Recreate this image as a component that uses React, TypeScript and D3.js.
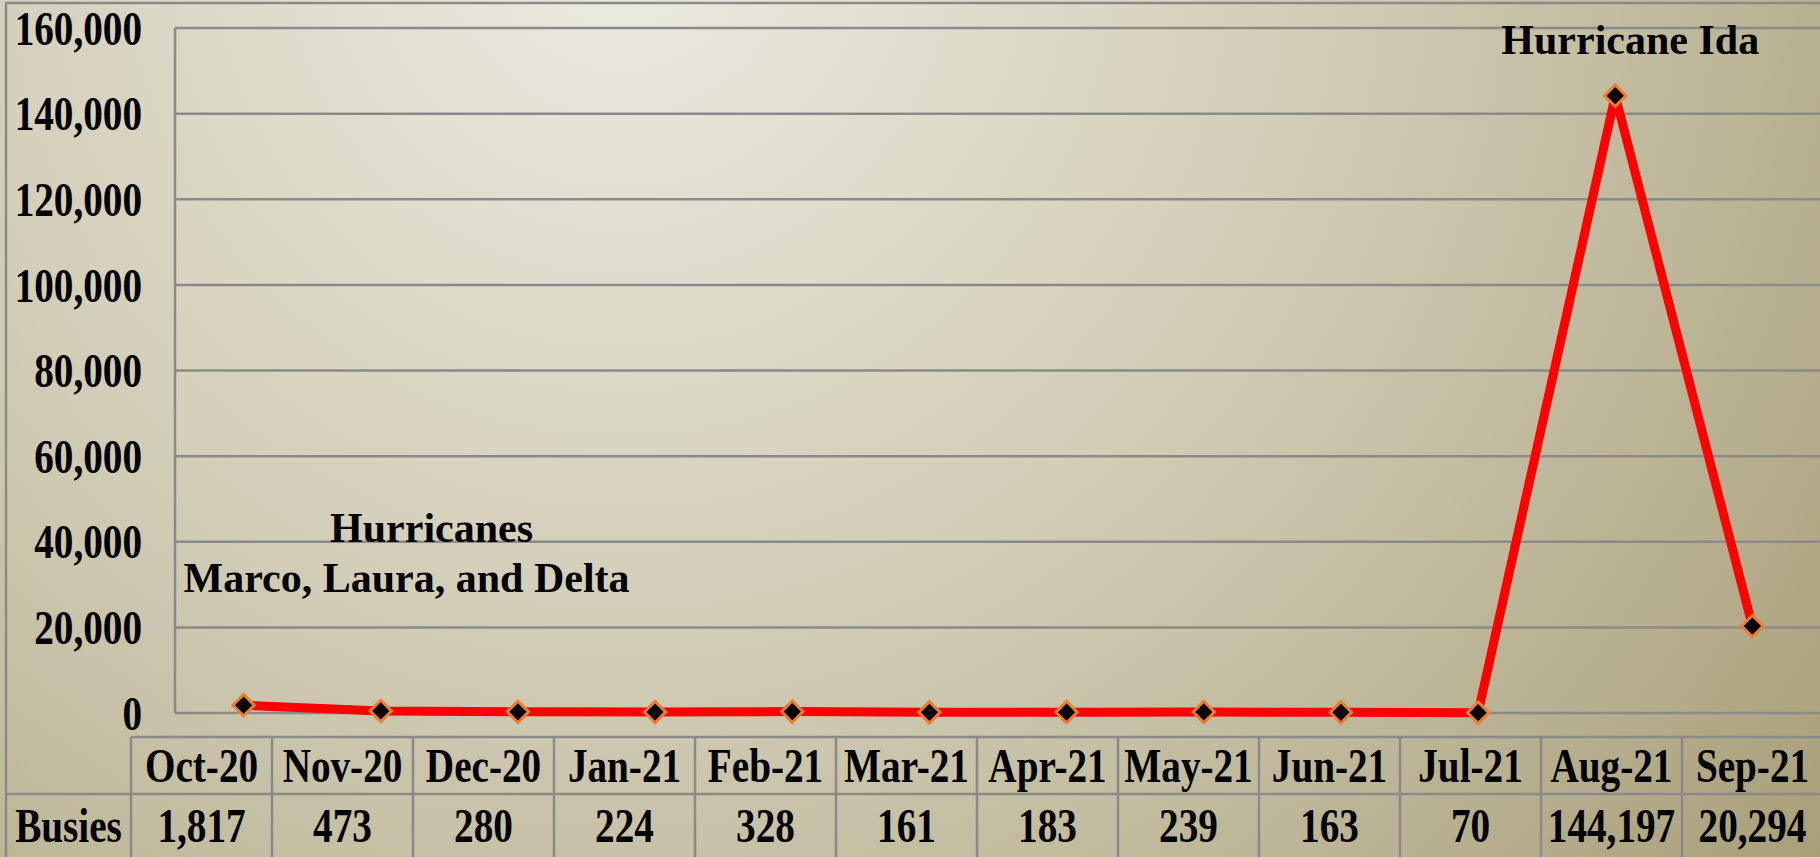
import React, { useEffect, useRef } from "react";
import * as d3 from "d3";

// monthly busies
const months = ["Oct-20", "Nov-20", "Dec-20", "Jan-21", "Feb-21", "Mar-21", "Apr-21", "May-21", "Jun-21", "Jul-21", "Aug-21", "Sep-21"];
const busies = [1817, 473, 280, 224, 328, 161, 183, 239, 163, 70, 144197, 20294];
const rowLabel = "Busies";
const yMax = 160000;
const notes = [
  { month: "Oct-20", lines: ["Hurricanes", "Marco, Laura, and Delta"] },
  { month: "Aug-21", lines: ["Hurricane Ida"] },
];

export default function App() {
  const svgRef = useRef<SVGSVGElement>(null);

  useEffect(() => {
    const w = 1820;
    const h = 857;
    const font = "'Liberation Serif', 'Times New Roman', serif";
    const grey = "#8a8a8a";
    const squeeze = 0.8;

    const svg = d3.select(svgRef.current).attr("width", w).attr("height", h);
    svg.selectAll("*").remove();

    // background gradient
    const defs = svg.append("defs");
    const grad = defs
      .append("radialGradient")
      .attr("id", "bg")
      .attr("gradientUnits", "userSpaceOnUse")
      .attr("cx", 620)
      .attr("cy", -60)
      .attr("r", 1550);
    grad.append("stop").attr("offset", 0).attr("stop-color", "#ecebe2");
    grad.append("stop").attr("offset", 0.45).attr("stop-color", "#d2cdb7");
    grad.append("stop").attr("offset", 1).attr("stop-color", "#a69d76");
    svg.append("rect").attr("width", w).attr("height", h).attr("fill", "url(#bg)");

    // outer border
    svg.append("rect")
      .attr("x", 6).attr("y", 3).attr("width", w).attr("height", h)
      .attr("fill", "none").attr("stroke", grey).attr("stroke-width", 2.5);

    // scales
    const plotL = 175, plotR = 1821, plotT = 28, plotB = 713;
    const x = d3.scaleBand().domain(months).range([plotL, plotR]);
    const y = d3.scaleLinear().domain([0, yMax]).range([plotB, plotT]);
    const cx = (m: string) => (x(m) as number) + x.bandwidth() / 2;

    // gridlines
    const ticks = y.ticks(8);
    svg.append("g")
      .selectAll("line")
      .data(ticks)
      .join("line")
      .attr("x1", plotL).attr("x2", w + 5)
      .attr("y1", (d) => y(d)).attr("y2", (d) => y(d))
      .attr("stroke", grey).attr("stroke-width", 2.5);
    svg.append("line")
      .attr("x1", plotL).attr("x2", plotL)
      .attr("y1", plotT).attr("y2", plotB)
      .attr("stroke", grey).attr("stroke-width", 2.5);

    // y labels
    svg.append("g")
      .selectAll("text")
      .data(ticks)
      .join("text")
      .attr("transform", (d) => `translate(142, ${y(d)}) scale(${squeeze}, 1)`)
      .attr("dy", "0.34em")
      .attr("text-anchor", "end")
      .style("font-family", font)
      .style("font-weight", "bold")
      .style("font-size", "49px")
      .text((d) => d3.format(",")(d));

    // line
    const line = d3.line<number>()
      .x((_, i) => cx(months[i]))
      .y((d) => y(d));
    svg.append("path")
      .datum(busies)
      .attr("d", line)
      .attr("fill", "none")
      .attr("stroke", "#ff0000")
      .attr("stroke-width", 9);

    // markers
    const diamond = d3.symbol().type(d3.symbolSquare).size(230);
    svg.append("g")
      .selectAll("path")
      .data(busies)
      .join("path")
      .attr("d", diamond)
      .attr("transform", (d, i) => `translate(${cx(months[i])}, ${y(d)}) rotate(45)`)
      .attr("fill", "#000")
      .attr("stroke", "#ed7d31")
      .attr("stroke-width", 3);

    // annotations
    const oct = notes[0];
    svg.append("text")
      .attr("x", cx(oct.month) + 188).attr("y", y(40000))
      .attr("text-anchor", "middle")
      .style("font-family", font).style("font-weight", "bold").style("font-size", "42px")
      .text(oct.lines[0]);
    svg.append("text")
      .attr("x", cx(oct.month) + 163).attr("y", y(40000) + 50)
      .attr("text-anchor", "middle")
      .style("font-family", font).style("font-weight", "bold").style("font-size", "42px")
      .text(oct.lines[1]);
    const aug = notes[1];
    svg.append("text")
      .attr("x", cx(aug.month) + 15).attr("y", 54)
      .attr("text-anchor", "middle")
      .style("font-family", font).style("font-weight", "bold").style("font-size", "42px")
      .text(aug.lines[0]);

    // data table
    const tableL = 131, tableT = 737, rowMid = 794, outerL = 6;
    const col = d3.scaleBand().domain(months).range([tableL, tableL + 12 * 141]);
    const colC = (m: string) => (col(m) as number) + col.bandwidth() / 2;
    const tbl = svg.append("g");
    tbl.append("line")
      .attr("x1", tableL).attr("x2", w + 5).attr("y1", tableT).attr("y2", tableT)
      .attr("stroke", grey).attr("stroke-width", 2.5);
    tbl.append("line")
      .attr("x1", outerL).attr("x2", w + 5).attr("y1", rowMid).attr("y2", rowMid)
      .attr("stroke", grey).attr("stroke-width", 2.5);
    tbl.selectAll("line.v")
      .data(months)
      .join("line")
      .attr("class", "v")
      .attr("x1", (m) => col(m) as number).attr("x2", (m) => col(m) as number)
      .attr("y1", tableT).attr("y2", h + 5)
      .attr("stroke", grey).attr("stroke-width", 2.5);

    const cellText = (sel: any, yy: number) =>
      sel
        .attr("text-anchor", "middle")
        .style("font-family", font)
        .style("font-weight", "bold")
        .style("font-size", "49px")
        .attr("transform", (d: any, i: number) => `translate(${colC(months[i])}, ${yy}) scale(${squeeze}, 1)`);

    tbl.append("g").selectAll("text").data(months).join("text")
      .call(cellText, 782)
      .text((d) => d);
    tbl.append("g").selectAll("text").data(busies).join("text")
      .call(cellText, 842)
      .text((d) => d3.format(",")(d));
    tbl.append("text")
      .attr("text-anchor", "middle")
      .attr("transform", `translate(${(outerL + tableL) / 2}, 842) scale(${squeeze}, 1)`)
      .style("font-family", font).style("font-weight", "bold").style("font-size", "49px")
      .text(rowLabel);
  }, []);

  return (
    <div style={{ position: "absolute", left: 0, top: 0 }}>
      <svg ref={svgRef} style={{ display: "block" }}></svg>
    </div>
  );
}
